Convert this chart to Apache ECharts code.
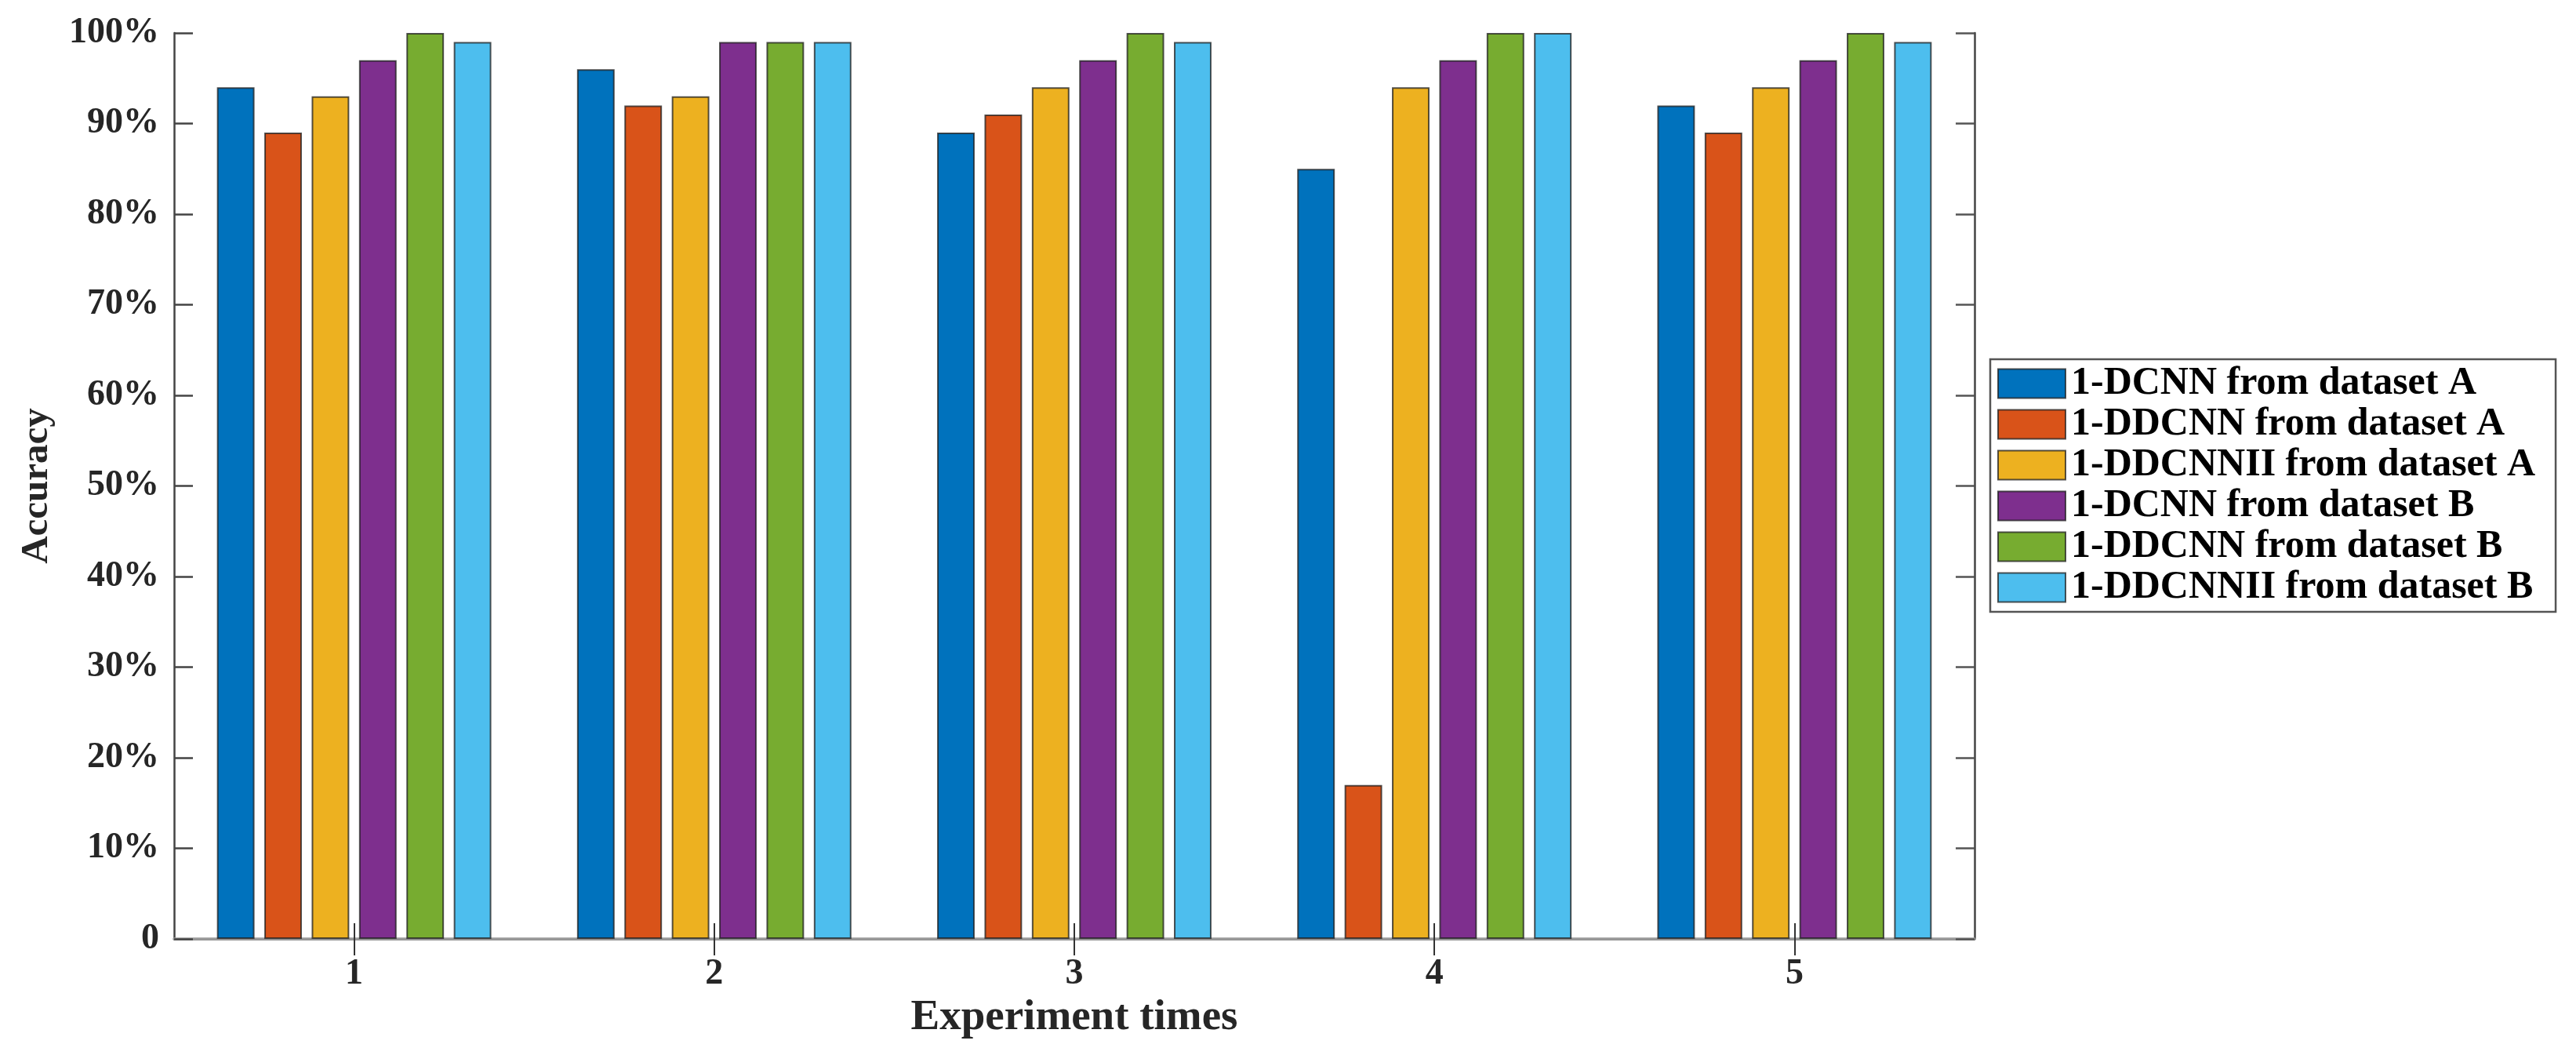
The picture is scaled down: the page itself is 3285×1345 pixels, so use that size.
<!DOCTYPE html>
<html>
<head>
<meta charset="utf-8">
<script src="https://cdn.jsdelivr.net/npm/echarts@6/dist/echarts.min.js"></script>
<style>
html,body{margin:0;padding:0;background:#fff;}
#chart{width:3285px;height:1345px;}
</style>
</head>
<body>
<div id="chart"></div>
<script>
const categories = ['1', '2', '3', '4', '5'];
const seriesNames = [
  '1-DCNN from dataset A',
  '1-DDCNN from dataset A',
  '1-DDCNNII from dataset A',
  '1-DCNN from dataset B',
  '1-DDCNN from dataset B',
  '1-DDCNNII from dataset B'
];
const dcnnA    = [94, 96, 89, 85, 92];
const ddcnnA   = [89, 92, 91, 17, 89];
const ddcnnIIA = [93, 93, 94, 94, 94];
const dcnnB    = [97, 99, 97, 97, 97];
const ddcnnB   = [100, 99, 100, 100, 100];
const ddcnnIIB = [99, 99, 99, 100, 99];
const yTicks = [0, 10, 20, 30, 40, 50, 60, 70, 80, 90, 100];

const colors = ['#0072BD', '#D95319', '#EDB120', '#7E2F8E', '#77AC30', '#4DBEEE'];
const allData = [dcnnA, ddcnnA, ddcnnIIA, dcnnB, ddcnnB, ddcnnIIB];
const FONT = "'Liberation Serif', 'Times New Roman', serif";

const chart = echarts.init(document.getElementById('chart'), null, {renderer: 'canvas'});
const series = seriesNames.map((name, i) => ({
  name: name,
  type: 'bar',
  xAxisIndex: 0,
  yAxisIndex: 0,
  data: allData[i],
  barGap: '26%',
  barCategoryGap: '23.8%',
  itemStyle: {color: colors[i], borderColor: 'rgba(30,30,30,0.75)', borderWidth: 2},
  emphasis: {disabled: true}
}));

chart.setOption({
  animation: false,
  backgroundColor: '#fff',
  grid: {left: 222, right: 767, top: 42, bottom: 148, containLabel: false},
  legend: {
    orient: 'vertical',
    left: 2538,
    top: 458,
    itemWidth: 86,
    itemHeight: 37,
    itemGap: 2,
    padding: [6, 26, 6, 9],
    borderColor: '#555',
    borderWidth: 2.5,
    backgroundColor: '#fff',
    icon: 'rect',
    textStyle: {fontFamily: FONT, fontWeight: 'bold', fontSize: 50, color: '#000', padding: [0,0,0,2]},
    data: seriesNames
  },
  xAxis: [{
    type: 'category',
    data: categories,
    position: 'bottom',
    name: 'Experiment times',
    nameLocation: 'middle',
    nameGap: 66,
    nameTextStyle: {fontFamily: FONT, fontWeight: 'bold', fontSize: 55, color: '#262626'},
    axisLine: {show: true, lineStyle: {color: '#4a4a4a', width: 2.5}},
    axisTick: {show: true, inside: true, alignWithLabel: true, length: 20, lineStyle: {color: '#333', width: 2}},
    axisLabel: {fontFamily: FONT, fontWeight: 'bold', fontSize: 46, color: '#262626', margin: 22},
    splitLine: {show: false}
  }, {
    type: 'category',
    data: categories,
    position: 'top',
    axisLine: {show: true, lineStyle: {color: '#999', width: 3.5}},
    axisTick: {show: true, inside: true, alignWithLabel: true, length: 21, lineStyle: {color: '#333', width: 2}},
    axisLabel: {show: false},
    splitLine: {show: false}
  }],
  yAxis: [{
    type: 'value',
    min: 0,
    max: 100,
    interval: 10,
    position: 'left',
    name: 'Accuracy',
    nameLocation: 'middle',
    nameGap: 150,
    nameTextStyle: {fontFamily: FONT, fontWeight: 'bold', fontSize: 49, color: '#262626'},
    axisLine: {show: true, lineStyle: {color: '#444', width: 2.5}},
    axisTick: {show: true, inside: true, length: 24, lineStyle: {color: '#444', width: 2.5}},
    axisLabel: {fontFamily: FONT, fontWeight: 'bold', fontSize: 46, color: '#262626', margin: 19,
      formatter: v => (yTicks.indexOf(v) >= 0 ? (v === 0 ? '0' : v + '%') : '')},
    splitLine: {show: false}
  }, {
    type: 'value',
    min: 0,
    max: 100,
    interval: 10,
    position: 'right',
    axisLine: {show: true, lineStyle: {color: '#444', width: 2.5}},
    axisTick: {show: true, inside: true, length: 24, lineStyle: {color: '#555', width: 2.5}},
    axisLabel: {show: false},
    splitLine: {show: false}
  }],
  series: series
});
</script>
</body>
</html>
